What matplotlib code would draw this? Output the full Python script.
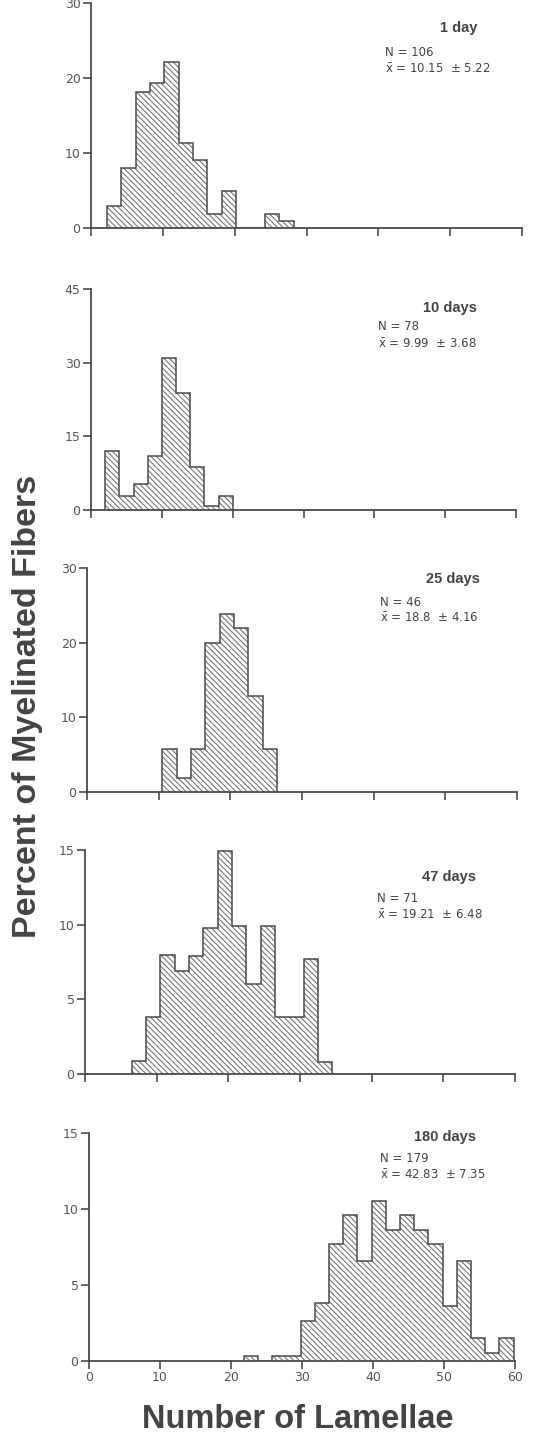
import matplotlib
matplotlib.use("Agg")
import matplotlib.pyplot as plt
import numpy as np

plt.rcParams['font.family'] = ['Liberation Sans', 'DejaVu Sans']
plt.rcParams['hatch.linewidth'] = 0.7
plt.rcParams['mathtext.fontset'] = 'dejavusans'

# histogram data (percent of fibers per 2-lamella bin)
edge1 = 2.2
pct1 = [3.0, 8.0, 18.2, 19.3, 22.2, 11.3, 9.1, 1.9, 4.9, 0, 0, 1.9, 0.9]
edge2 = 2.0
pct2 = [12.1, 2.9, 5.2, 10.9, 31.0, 23.9, 8.8, 0.8, 2.9]
edge3 = 10.5
pct3 = [5.8, 1.9, 5.8, 19.9, 23.8, 22.0, 12.8, 5.8]
edge4 = 6.5
pct4 = [0.9, 3.8, 8.0, 6.9, 7.9, 9.8, 14.9, 9.9, 6.0, 9.9, 3.8, 3.8, 7.7, 0.8]
edge5 = 21.8
pct5 = [0.3, 0, 0.3, 0.3, 2.6, 3.8, 7.7, 9.6, 6.6, 10.5, 8.6, 9.6, 8.6, 7.7,
        3.6, 6.6, 1.5, 0.5, 1.5]
binw = 2.0

titles = ["1 day", "10 days", "25 days", "47 days", "180 days"]
ns = [106, 78, 46, 71, 179]
means = ["10.15", "9.99", "18.8", "19.21", "42.83"]
sds = ["5.22", "3.68", "4.16", "6.48", "7.35"]
yticks = [[0, 10, 20, 30], [0, 15, 30, 45], [0, 10, 20, 30],
          [0, 5, 10, 15], [0, 5, 10, 15]]
xticks = [0, 10, 20, 30, 40, 50, 60]

W, H = 537, 1440
# panel boxes in pixels: left, right, top, bottom
boxes = [(91, 522, 3, 228), (91, 516, 289, 510), (87, 517, 568, 792),
         (85, 515, 850, 1074), (89, 515, 1133, 1361)]
# annotation positions in pixels: title centre, stats left, stats rows
notes = [((459, 28), 385, 52, 69), ((450, 308), 378, 327, 344),
         ((453, 579), 380, 602, 618), ((449, 877), 377, 898, 915),
         ((445, 1137), 380, 1159, 1175)]

line_c = '#4a4a4a'
text_c = '#444444'
hatch_c = '#666666'

fig = plt.figure(figsize=(W / 100, H / 100), dpi=100)

data = [(edge1, pct1), (edge2, pct2), (edge3, pct3), (edge4, pct4), (edge5, pct5)]
for i, (start, vals) in enumerate(data):
    l, r, t, b = boxes[i]
    ax = fig.add_axes([l / W, 1 - b / H, (r - l) / W, (b - t) / H])
    edges = start + binw * np.arange(len(vals) + 1)
    ax.stairs(vals, edges, fill=True, facecolor='white', edgecolor=hatch_c,
              hatch='\\\\\\\\\\\\', linewidth=0)
    ax.stairs(vals, edges, color=line_c, linewidth=1.1)
    ax.set_xlim(0, 60)
    ax.set_ylim(0, yticks[i][-1])
    for s in ['top', 'right']:
        ax.spines[s].set_visible(False)
    for s in ['left', 'bottom']:
        ax.spines[s].set_color(line_c)
        ax.spines[s].set_linewidth(1.3)
    ax.set_yticks(yticks[i])
    ax.set_xticks(xticks)
    ax.tick_params(colors=line_c, length=6, width=1.2, labelsize=9,
                   labelcolor='#555555', pad=1.5)
    for lab in ax.get_xticklabels() + ax.get_yticklabels():
        lab.set_family('DejaVu Sans')
        lab.set_clip_on(False)
    if i < 4:
        ax.set_xticklabels([])
    ax.patch.set_alpha(0)

    (tx, ty), nx, ny, my = notes[i]
    fig.text(tx / W, 1 - ty / H, titles[i], ha='center', va='center',
             fontsize=10.5, fontweight='bold', color=text_c)
    fig.text(nx / W, 1 - ny / H, "N = %d" % ns[i], ha='left', va='center',
             fontsize=8.5, color=text_c, family='DejaVu Sans')
    fig.text(nx / W, 1 - my / H,
             r"$\bar{\mathrm{x}}$ = %s  $\pm$ %s" % (means[i], sds[i]),
             ha='left', va='center', fontsize=8.5, color=text_c,
             family='DejaVu Sans')

fig.text(28 / W, 1 - 706 / H, "Percent of Myelinated Fibers", rotation=90,
         ha='center', va='center', fontsize=24.5, fontweight='bold', color=text_c)
fig.text(298 / W, 1 - 1420 / H, "Number of Lamellae", ha='center', va='center',
         fontsize=23.5, fontweight='bold', color=text_c)

fig.savefig("out.png", dpi=100)
